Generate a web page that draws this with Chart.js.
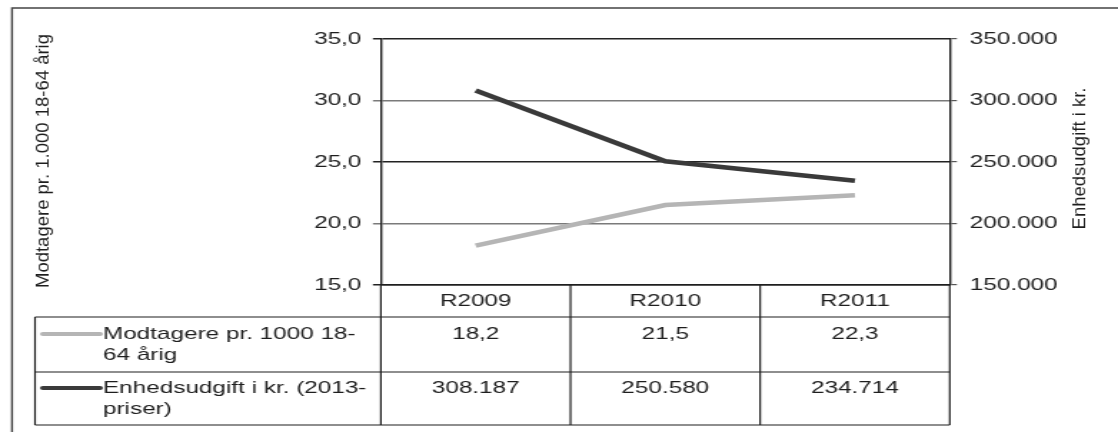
<!DOCTYPE html>
<html lang="da">
<head>
<meta charset="utf-8">
<title>Modtagere og enhedsudgift</title>
<script src="https://cdn.jsdelivr.net/npm/chart.js@4.4.1/dist/chart.umd.min.js"></script>
<style>
    html, body { margin: 0; padding: 0; background: #fff; overflow: hidden; }
    #wrap { width: 1118px; height: 432px; overflow: hidden; }
    /* laid out 782 wide, then stretched sideways like the scanned original */
    #chart { display: block; transform: scaleX(1.4297); transform-origin: 0 0; }
</style>
</head>
<body>
<div id="wrap"><canvas id="chart" width="782" height="432"></canvas></div>
<script>
const categories = ['R2009', 'R2010', 'R2011'];
const modtagere = [18.2, 21.5, 22.3];
const enhedsudgift = [308187, 250580, 234714];
const seriesNames = [['Modtagere pr. 1000 18-', '64 årig'], ['Enhedsudgift i kr. (2013-', 'priser)']];
const leftTitle = 'Modtagere pr. 1.000 18-64 årig';
const rightTitle = 'Enhedsudgift i kr.';
const leftRange = [15, 35, 5];
const rightRange = [150000, 350000, 50000];

const STRETCH = 1118 / 782;
const FONT = '"Liberation Sans", Arial, sans-serif';
const INK = '#1e1e1e';
const colors = ['#b5b5b5', '#3a3a3a'];
const gridColors = ['#222', '#7a7a7a', '#222', '#7a7a7a', '#222'];

const fmtDec = (v) => Number(v).toFixed(1).replace('.', ',');
const fmtThousand = (v) => String(Math.round(v)).replace(/\B(?=(\d{3})+(?!\d))/g, '.');

// rotated titles are drawn un-stretched, so undo the css scale for them
function drawRotated(ctx, text, cx, cy) {
    ctx.save();
    ctx.translate(cx, cy);
    ctx.scale(1 / STRETCH, 1);
    ctx.rotate(-Math.PI / 2);
    ctx.font = `18.5px ${FONT}`;
    ctx.fillStyle = INK;
    ctx.textAlign = 'center';
    ctx.textBaseline = 'middle';
    ctx.fillText(text, 0, 0);
    ctx.restore();
}

const frameAndTable = {
    id: 'frameAndTable',
    beforeDraw(chart) {
        const ctx = chart.ctx;
        ctx.save();
        ctx.strokeStyle = '#444';
        ctx.lineWidth = 1.4;
        ctx.beginPath();
        ctx.moveTo(8.4, 432); ctx.lineTo(8.4, 8); ctx.lineTo(782, 8);
        ctx.stroke();
        ctx.restore();
    },
    afterDraw(chart) {
        const { ctx, chartArea: a, scales: { x } } = chart;
        const colW = (a.right - a.left) / categories.length;
        const rows = [a.bottom, a.bottom + 32, a.bottom + 87, a.bottom + 140];
        const legendLeft = 24.5;
        ctx.save();
        ctx.strokeStyle = INK;
        ctx.lineWidth = 1.2;
        ctx.beginPath();
        for (let r = 1; r < rows.length; r++) { ctx.moveTo(legendLeft, rows[r]); ctx.lineTo(a.right, rows[r]); }
        ctx.moveTo(legendLeft, rows[1]); ctx.lineTo(legendLeft, rows[3]);
        for (let i = 0; i <= categories.length; i++) {
            const xx = x.getPixelForValue(0) - colW / 2 + colW * i;
            ctx.moveTo(xx, rows[0]); ctx.lineTo(xx, rows[3]);
        }
        ctx.stroke();

        ctx.font = `17px ${FONT}`;
        ctx.fillStyle = INK;
        ctx.textAlign = 'center';
        ctx.textBaseline = 'middle';
        categories.forEach((c, i) => ctx.fillText(c, x.getPixelForValue(i), (rows[0] + rows[1]) / 2));
        modtagere.forEach((v, i) => ctx.fillText(fmtDec(v), x.getPixelForValue(i), rows[1] + 17));
        enhedsudgift.forEach((v, i) => ctx.fillText(fmtThousand(v), x.getPixelForValue(i), rows[2] + 16));

        ctx.textAlign = 'left';
        [rows[1] + 17, rows[2] + 16].forEach((y, s) => {
            ctx.strokeStyle = colors[s];
            ctx.lineWidth = 4;
            ctx.lineCap = 'round';
            ctx.beginPath(); ctx.moveTo(30, y); ctx.lineTo(70, y); ctx.stroke();
            seriesNames[s].forEach((line, k) => ctx.fillText(line, 72, y + k * 21));
        });
        ctx.restore();

        drawRotated(ctx, leftTitle, 30, 161);
        drawRotated(ctx, rightTitle, 755, 158.5);
    },
};

const tickFont = { family: FONT, size: 17 };

new Chart(document.getElementById('chart'), {
    type: 'line',
    data: {
        labels: categories,
        datasets: [
            { label: seriesNames[0].join(''), data: modtagere, yAxisID: 'y', borderColor: colors[0], borderWidth: 4.5, pointRadius: 0, tension: 0 },
            { label: seriesNames[1].join(''), data: enhedsudgift, yAxisID: 'y2', borderColor: colors[1], borderWidth: 4.5, pointRadius: 0, tension: 0 },
        ],
    },
    options: {
        responsive: false, animation: false, devicePixelRatio: 1,
        layout: { padding: { top: 39, bottom: 147, left: 0, right: 0 } },
        plugins: { legend: { display: false }, tooltip: { enabled: false } },
        scales: {
            x: {
                offset: true,
                ticks: { display: false },
                grid: { display: false, drawTicks: false },
                border: { color: INK, width: 1.5 },
                afterFit: (s) => { s.height = 0; },
            },
            y: {
                position: 'left', min: leftRange[0], max: leftRange[1],
                ticks: { stepSize: leftRange[2], callback: fmtDec, color: INK, font: tickFont, padding: 8 },
                grid: { color: gridColors, lineWidth: 1.5, tickLength: 5.6 },
                border: { color: INK, width: 1.4 },
                afterFit: (s) => { s.width = 266.4; },
            },
            y2: {
                position: 'right', min: rightRange[0], max: rightRange[1],
                ticks: { stepSize: rightRange[2], callback: fmtThousand, color: INK, font: tickFont, padding: 9 },
                grid: { drawOnChartArea: false, color: '#555', lineWidth: 1.2, tickLength: 5 },
                border: { color: INK, width: 1.4 },
                afterFit: (s) => { s.width = 117.7; },
            },
        },
    },
    plugins: [frameAndTable],
});
</script>
</body>
</html>
